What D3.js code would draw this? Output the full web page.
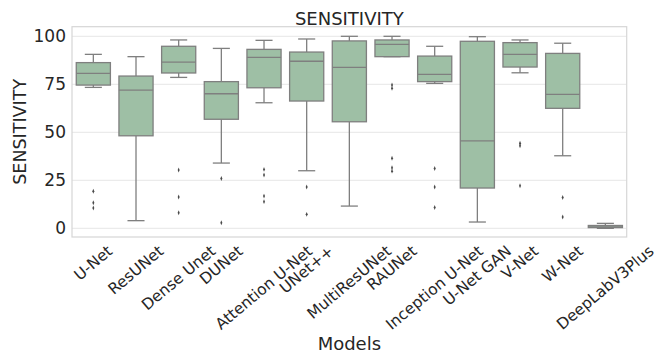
<!DOCTYPE html>
<html>
<head>
<meta charset="utf-8">
<script src="https://cdn.jsdelivr.net/npm/d3@7"></script>
<style>
  body { margin: 0; background: #fff; }
  text { font-family: "DejaVu Sans", sans-serif; fill: #262626; }
</style>
</head>
<body>
<div id="area"></div>
<script>
// box statistics
var models = ["U-Net", "ResUNet", "Dense Unet", "DUNet", "Attention U-Net", "UNet++",
  "MultiResUNet", "RAUNet", "Inception U-Net", "U-Net GAN", "V-Net", "W-Net", "DeepLabV3Plus"];
var whiskLow  = [73.4,  4.0, 78.6, 34.0, 65.4, 30.0, 11.6, 89.4, 75.5,  3.3, 81.0, 37.8, 0.0];
var q1        = [74.6, 48.2, 80.9, 56.8, 73.2, 66.3, 55.5, 89.4, 76.4, 21.0, 84.0, 62.5, 0.4];
var medians   = [80.7, 72.0, 86.6, 70.1, 89.0, 87.0, 83.8, 95.8, 80.2, 45.5, 90.6, 69.8, 0.8];
var q3        = [86.3, 79.3, 94.8, 76.4, 93.2, 91.8, 97.6, 98.1, 89.7, 97.4, 96.7, 91.1, 1.5];
var whiskHigh = [90.6, 89.4, 98.1, 93.7, 97.9, 98.6, 100.0, 100.0, 94.8, 99.8, 98.1, 96.4, 2.6];
var outliers = [
  [19.3, 13.3, 10.6],
  [],
  [30.4, 16.3, 8.1],
  [26.0, 2.9],
  [30.7, 27.8, 16.8, 13.9],
  [21.5, 7.3],
  [],
  [74.6, 72.9, 36.5, 31.6, 29.8],
  [31.2, 21.5, 10.9],
  [],
  [44.3, 43.0, 22.2],
  [16.1, 5.9],
  []
];
var yTicks = [0, 25, 50, 75, 100];

var width = 656, height = 356;
var mLeft = 72, mRight = 626.7, mTop = 26.7, mBottom = 237;

var svg = d3.select("#area").append("svg")
  .attr("width", width)
  .attr("height", height);

var x = d3.scaleBand().domain(models).range([mLeft, mRight]).padding(0);
var y = d3.scaleLinear().domain([-4.5, 105]).range([mBottom, mTop]);

var boxW = x.bandwidth() * 0.8;
var edge = "#7f7f7f";
var cx = function(i) { return x(models[i]) + x.bandwidth() / 2; };

// grid
svg.append("g").selectAll("line")
  .data(yTicks)
  .enter().append("line")
  .attr("x1", mLeft).attr("x2", mRight)
  .attr("y1", function(d) { return y(d); })
  .attr("y2", function(d) { return y(d); })
  .style("stroke", "#ebebeb")
  .style("stroke-width", 1.2);

// y tick labels
svg.append("g").selectAll("text")
  .data(yTicks)
  .enter().append("text")
  .attr("x", mLeft - 6)
  .attr("y", function(d) { return y(d); })
  .attr("text-anchor", "end")
  .attr("dominant-baseline", "central")
  .style("font-size", "17px")
  .text(function(d) { return d; });

// boxes
var idx = d3.range(models.length);
var g = svg.append("g").selectAll("g")
  .data(idx)
  .enter().append("g");

// whiskers
g.append("line")
  .attr("x1", cx).attr("x2", cx)
  .attr("y1", function(i) { return y(whiskLow[i]); })
  .attr("y2", function(i) { return y(q1[i]); })
  .style("stroke", edge).style("stroke-width", 1.3);
g.append("line")
  .attr("x1", cx).attr("x2", cx)
  .attr("y1", function(i) { return y(whiskHigh[i]); })
  .attr("y2", function(i) { return y(q3[i]); })
  .style("stroke", edge).style("stroke-width", 1.3);
// caps
[whiskLow, whiskHigh].forEach(function(arr) {
  g.append("line")
    .attr("x1", function(i) { return cx(i) - boxW / 4; })
    .attr("x2", function(i) { return cx(i) + boxW / 4; })
    .attr("y1", function(i) { return y(arr[i]); })
    .attr("y2", function(i) { return y(arr[i]); })
    .style("stroke", edge).style("stroke-width", 1.3);
});

g.append("rect")
  .attr("x", function(i) { return cx(i) - boxW / 2; })
  .attr("y", function(i) { return y(q3[i]); })
  .attr("width", boxW)
  .attr("height", function(i) { return y(q1[i]) - y(q3[i]); })
  .style("fill", "#9ebfa5")
  .style("stroke", edge)
  .style("stroke-width", 1.3);

g.append("line")
  .attr("x1", function(i) { return cx(i) - boxW / 2; })
  .attr("x2", function(i) { return cx(i) + boxW / 2; })
  .attr("y1", function(i) { return y(medians[i]); })
  .attr("y2", function(i) { return y(medians[i]); })
  .style("stroke", edge).style("stroke-width", 1.3);

// outliers
g.selectAll("path")
  .data(function(i) { return outliers[i].map(function(v) { return [i, v]; }); })
  .enter().append("path")
  .attr("d", d3.symbol().type(d3.symbolDiamond).size(7))
  .attr("transform", function(d) {
    return "translate(" + cx(d[0]) + "," + y(d[1]) + ") scale(0.7,1)";
  })
  .style("fill", "#4a4a4a");

// frame
svg.append("rect")
  .attr("x", mLeft).attr("y", mTop)
  .attr("width", mRight - mLeft).attr("height", mBottom - mTop)
  .style("fill", "none")
  .style("stroke", "#d6d6d6")
  .style("stroke-width", 1.2);

// x tick labels, rotated 40deg, bbox centred on the tick
var angle = 40 * Math.PI / 180;
var fs = 15.5;
var labelTop = 242;
svg.append("g").selectAll("text")
  .data(models)
  .enter().append("text")
  .attr("text-anchor", "middle")
  .attr("dominant-baseline", "central")
  .style("font-size", fs + "px")
  .text(function(d) { return d; })
  .attr("transform", function(d) {
    var w = this.getComputedTextLength();
    var h = fs * 1.17;
    var H = w * Math.sin(angle) + h * Math.cos(angle);
    return "translate(" + (x(d) + x.bandwidth() / 2) + "," + (labelTop + H / 2) + ") rotate(-40)";
  });

svg.append("text")
  .attr("x", (mLeft + mRight) / 2).attr("y", 25)
  .attr("text-anchor", "middle")
  .style("font-size", "18px")
  .text("SENSITIVITY");

svg.append("text")
  .attr("x", (mLeft + mRight) / 2).attr("y", 350)
  .attr("text-anchor", "middle")
  .style("font-size", "18px")
  .text("Models");

svg.append("text")
  .attr("transform", "translate(20," + ((mTop + mBottom) / 2) + ") rotate(-90)")
  .attr("text-anchor", "middle")
  .attr("dominant-baseline", "central")
  .style("font-size", "17.5px")
  .text("SENSITIVITY");
</script>
</body>
</html>
